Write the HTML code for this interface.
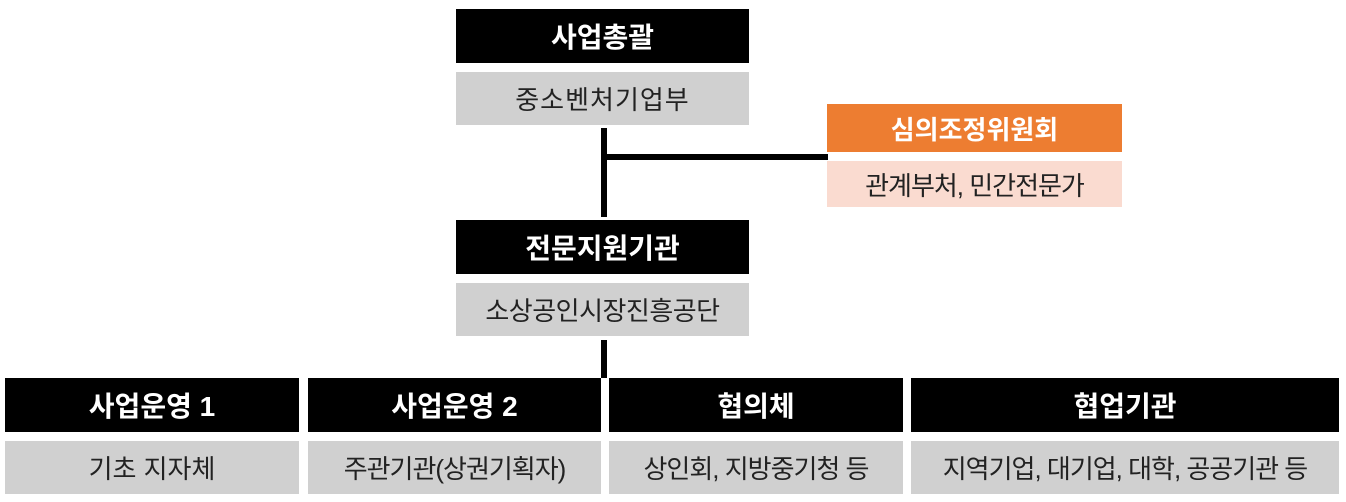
<!DOCTYPE html>
<html><head><meta charset="utf-8"><style>
body{margin:0;width:1346px;height:502px;background:#fff;position:relative;overflow:hidden;font-family:"Liberation Sans","Noto Sans CJK KR",sans-serif}
.b{position:absolute;display:flex;align-items:center;justify-content:center;font-size:26px;white-space:nowrap}
.k{background:#000;color:#fff;font-weight:bold;font-size:28px}
.g{background:#d0d0d0;color:#222}
.o{background:#ed7d31;color:#fff;font-weight:bold;font-size:26px}
.p{background:#fadbd0;color:#222;letter-spacing:-1px}
.t{letter-spacing:-1px}
.l{position:absolute;background:#000}
</style></head><body>
<div class="b k" style="left:456px;top:9px;width:293px;height:54px">사업총괄</div>
<div class="b g" style="left:456px;top:72px;width:293px;height:53px;letter-spacing:1px">중소벤처기업부</div>
<div class="l" style="left:601px;top:128px;width:6px;height:89px"></div>
<div class="l" style="left:604px;top:154px;width:224px;height:6px"></div>
<div class="b o" style="left:827px;top:104px;width:295px;height:48px">심의조정위원회</div>
<div class="b p" style="left:827px;top:161px;width:295px;height:46px">관계부처, 민간전문가</div>
<div class="b k" style="left:456px;top:220px;width:293px;height:54px">전문지원기관</div>
<div class="b g" style="left:456px;top:283px;width:293px;height:53px;letter-spacing:-0.5px">소상공인시장진흥공단</div>
<div class="l" style="left:601px;top:340px;width:6px;height:38px"></div>
<div class="b k" style="left:5px;top:378px;width:294px;height:54px">사업운영 1</div>
<div class="b g" style="left:5px;top:441px;width:294px;height:53px">기초 지자체</div>
<div class="b k" style="left:308px;top:378px;width:293px;height:54px">사업운영 2</div>
<div class="b g t" style="left:308px;top:441px;width:293px;height:53px">주관기관(상권기획자)</div>
<div class="b k" style="left:609px;top:378px;width:294px;height:54px">협의체</div>
<div class="b g t" style="left:609px;top:441px;width:294px;height:53px">상인회, 지방중기청 등</div>
<div class="b k" style="left:911px;top:378px;width:428px;height:54px">협업기관</div>
<div class="b g t" style="left:911px;top:441px;width:428px;height:53px">지역기업, 대기업, 대학, 공공기관 등</div>
</body></html>
